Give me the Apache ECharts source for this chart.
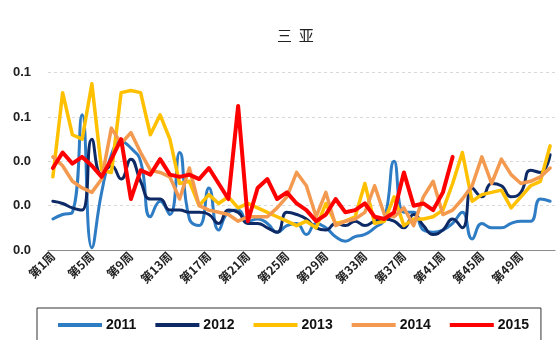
<!DOCTYPE html>
<html>
<head>
<meta charset="utf-8">
<script src="https://cdn.jsdelivr.net/npm/echarts@6/dist/echarts.min.js"></script>
<style>
  html, body { margin: 0; padding: 0; background: #fff; }
  #chart { width: 560px; height: 340px; }
</style>
</head>
<body>
<div id="chart"></div>
<script>
// Weekly share for Sanya, one line per year
const weeks = ['第1周','第2周','第3周','第4周','第5周','第6周','第7周','第8周','第9周','第10周',
  '第11周','第12周','第13周','第14周','第15周','第16周','第17周','第18周','第19周','第20周',
  '第21周','第22周','第23周','第24周','第25周','第26周','第27周','第28周','第29周','第30周',
  '第31周','第32周','第33周','第34周','第35周','第36周','第37周','第38周','第39周','第40周',
  '第41周','第42周','第43周','第44周','第45周','第46周','第47周','第48周','第49周','第50周',
  '第51周','第52周'];

const years = ['2011', '2012', '2013', '2014', '2015'];

const y2011 = [0.014,0.016,0.017,0.061,0.001,0.026,0.043,0.049,0.046,0.040,
  0.015,0.022,0.016,0.044,0.014,0.011,0.028,0.009,0.017,0.018,
  0.013,0.014,0.012,0.008,0.011,0.012,0.007,0.012,0.010,0.006,
  0.004,0.006,0.007,0.010,0.014,0.040,0.017,0.017,0.009,0.008,
  0.009,0.012,0.017,0.005,0.012,0.010,0.010,0.012,0.013,0.013,
  0.023,0.022];

const y2012 = [0.022,0.021,0.019,0.018,0.050,0.034,0.038,0.032,0.041,0.031,
  0.023,0.023,0.018,0.018,0.017,0.017,0.016,0.012,0.018,0.017,
  0.012,0.012,0.010,0.008,0.017,0.016,0.014,0.010,0.009,0.012,
  0.011,0.013,0.011,0.013,0.014,0.013,0.010,0.016,0.011,0.007,
  0.009,0.014,0.010,0.028,0.024,0.030,0.029,0.024,0.026,0.036,
  0.035,0.043];

const y2013 = [0.033,0.071,0.052,0.050,0.075,0.036,0.035,0.071,0.072,0.071,
  0.052,0.061,0.050,0.030,0.031,0.020,0.025,0.021,0.024,0.019,
  0.021,0.019,0.017,0.015,0.013,0.011,0.013,0.010,0.021,0.012,
  0.013,0.015,0.030,0.012,0.013,0.024,0.011,0.014,0.014,0.015,
  0.018,0.030,0.044,0.022,0.025,0.026,0.027,0.019,0.024,0.029,
  0.031,0.047];

const y2014 = [0.042,0.038,0.031,0.028,0.026,0.032,0.055,0.048,0.053,0.044,
  0.036,0.035,0.033,0.023,0.037,0.020,0.018,0.017,0.016,0.013,
  0.015,0.015,0.015,0.019,0.024,0.035,0.029,0.015,0.026,0.011,
  0.013,0.014,0.017,0.029,0.016,0.015,0.019,0.011,0.024,0.031,
  0.016,0.018,0.023,0.029,0.042,0.030,0.041,0.034,0.030,0.031,
  0.033,0.037];

const y2015 = [0.037,0.044,0.039,0.042,0.038,0.033,0.041,0.050,0.023,0.036,
  0.034,0.041,0.034,0.033,0.034,0.032,0.037,0.030,0.023,0.065,
  0.013,0.028,0.032,0.023,0.026,0.021,0.018,0.013,0.016,0.023,
  0.017,0.018,0.021,0.015,0.014,0.017,0.035,0.020,0.021,0.018,
  0.026,0.042];

const seriesData = [y2011, y2012, y2013, y2014, y2015];
const colors = ['#2E7CC4', '#0E2A66', '#FFC000', '#F49A50', '#FF0000'];
const widths = [3, 3, 3.5, 3.5, 4];
const smoothFlags = [0.5, 0.5, false, false, false];

const chart = echarts.init(document.getElementById('chart'), null, { renderer: 'canvas' });

chart.setOption({
  animation: false,
  backgroundColor: '#ffffff',
  title: {
    text: '三  亚',
    left: 272,
    top: 23,
    textStyle: {
      fontFamily: '"Noto Sans CJK SC", sans-serif',
      fontSize: 15,
      fontWeight: 'normal',
      color: '#222'
    }
  },
  grid: { left: 48, right: 5, top: 72.7, bottom: 90 },
  legend: {
    data: years,
    left: 37,
    top: 308,
    padding: [10, 12, 20, 21],
    borderColor: '#333',
    borderWidth: 1,
    itemWidth: 44,
    itemHeight: 4,
    itemGap: 19,
    icon: 'rect',
    textStyle: {
      fontFamily: '"Liberation Sans", Arial, sans-serif',
      fontSize: 14,
      fontWeight: 'bold',
      color: '#111',
      padding: [0, 0, 0, -1]
    }
  },
  xAxis: {
    type: 'category',
    data: weeks,
    boundaryGap: true,
    axisLine: { lineStyle: { color: '#8c8c8c', width: 1 } },
    axisTick: { show: false },
    axisLabel: {
      interval: 3,
      rotate: 45,
      margin: 4,
      fontFamily: '"Noto Sans CJK SC", sans-serif',
      fontSize: 12,
      fontWeight: 'bold',
      color: '#222'
    },
    splitLine: { show: false }
  },
  yAxis: {
    type: 'value',
    min: 0,
    max: 0.08,
    interval: 0.02,
    axisLine: { show: false },
    axisTick: { show: false },
    axisLabel: {
      margin: 17,
      fontFamily: '"Liberation Sans", Arial, sans-serif',
      fontSize: 13,
      fontWeight: 'bold',
      color: '#222',
      formatter: v => v.toFixed(1)
    },
    splitLine: { lineStyle: { color: '#d9d9d9', type: [3, 3], width: 1 } }
  },
  series: years.map((name, i) => ({
    name: name,
    type: 'line',
    data: seriesData[i],
    smooth: smoothFlags[i],
    showSymbol: false,
    symbol: 'none',
    clip: false,
    lineStyle: { color: colors[i], width: widths[i], cap: 'round', join: 'round' },
    itemStyle: { color: colors[i] },
    z: 2 + i
  }))
});
</script>
</body>
</html>
